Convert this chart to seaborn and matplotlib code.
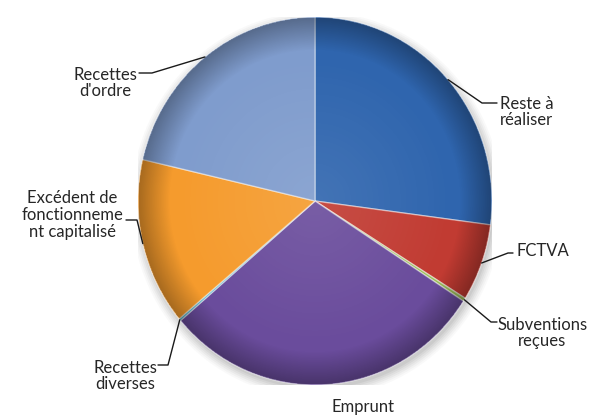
import numpy as np
import matplotlib
matplotlib.use("Agg")
import matplotlib.pyplot as plt
import seaborn as sns
from matplotlib.patches import Circle

sns.set_theme(style="white")
plt.rcParams['font.family'] = ['Lato', 'DejaVu Sans']

# data (shares in %)
labels = ["Reste à\nréaliser", "FCTVA", "Subventions\nreçues", "Emprunt",
          "Recettes\ndiverses", "Excédent de\nfonctionneme\nnt capitalisé", "Recettes\nd'ordre"]
values = [27.1, 6.8, 0.3, 29.6, 0.2, 14.7, 21.4]
colors = ["#2F65AE", "#C13B32", "#9BBB59", "#6A4C9C", "#4BACC6", "#F59B2D", "#7F9CCD"]

W, H = 595, 416
fig = plt.figure(figsize=(W / 100, H / 100), dpi=100)
cx, cy, rx, ry = 315, 201, 177, 184
ax = fig.add_axes([(cx - rx) / W, (H - cy - ry) / H, 2 * rx / W, 2 * ry / H])


def px(x, y):
    # figure pixel (top-left origin) -> data coords of the pie axes
    return (x - cx) / rx, (cy - y) / ry


# soft drop shadow
for k, a in zip(np.linspace(1.05, 1.0, 6), [0.03, 0.04, 0.05, 0.06, 0.07, 0.08]):
    ax.add_patch(Circle((0.01, -0.02), k, color="#555555", alpha=a, lw=0, zorder=0))

wedges, _ = ax.pie(values, colors=colors, startangle=90, counterclock=False, radius=1,
                   wedgeprops=dict(edgecolor=(1, 1, 1, 0.45), linewidth=1.0))
for w in wedges:
    w.set_zorder(1)

# rim darkening / bevel shading
n = 400
xx, yy = np.meshgrid(np.linspace(-1, 1, n), np.linspace(-1, 1, n))
r = np.sqrt(xx ** 2 + yy ** 2)
shade = np.zeros((n, n, 4))
shade[..., 3] = np.clip(0.32 * (r - 0.82) / 0.18, 0, 0.32) * (r <= 1)
img = ax.imshow(shade, extent=[-1, 1, -1, 1], origin="lower", zorder=2, interpolation="bilinear")
img.set_clip_path(Circle((0, 0), 1, transform=ax.transData))
hl = np.zeros((n, n, 4))
hl[..., :3] = 1
hl[..., 3] = np.clip(0.10 * (1 - r / 0.8), 0, 0.10)
img2 = ax.imshow(hl, extent=[-1, 1, -1, 1], origin="lower", zorder=2, interpolation="bilinear")
img2.set_clip_path(Circle((0, 0), 1, transform=ax.transData))

ax.set_aspect("auto")
ax.set_xlim(-1, 1)
ax.set_ylim(-1, 1)
ax.axis("off")

# label placement: text position, alignment, leader elbow and end (pixels)
layout = [
    ((500, 112), "left", (482, 103), (497, 103)),
    ((516, 251), "left", (508, 253), (513, 253)),
    ((497, 333), "left", (491, 322), (497, 322)),
    ((363, 407), "center", None, None),
    ((157, 376), "right", (168, 365), (158, 365)),
    ((123, 215), "right", (137, 220), (126, 220)),
    ((137, 83), "right", (152, 73), (139, 73)),
]

for w, lab, (tp, ha, elbow, end) in zip(wedges, labels, layout):
    tx, ty = px(*tp)
    ax.text(tx, ty, lab, ha=ha, va="center", multialignment="center",
            fontsize=12, color="#262626", linespacing=1.05, clip_on=False)
    if elbow is not None:
        ang = np.deg2rad((w.theta1 + w.theta2) / 2)
        ex, ey = px(*elbow)
        nx, ny = px(*end)
        ax.plot([np.cos(ang), ex, nx], [np.sin(ang), ey, ny], color="#1a1a1a",
                lw=1.0, clip_on=False, zorder=3)

fig.savefig("out.png", dpi=100)
